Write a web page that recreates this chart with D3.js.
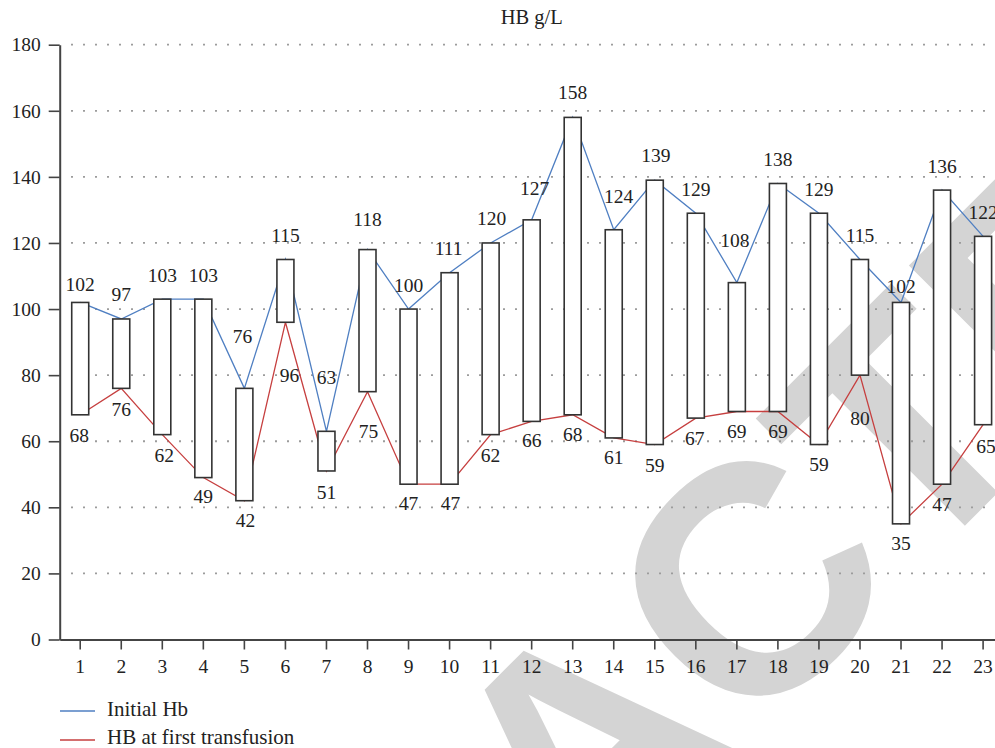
<!DOCTYPE html>
<html><head><meta charset="utf-8">
<script src="https://cdn.jsdelivr.net/npm/d3@7"></script>
<style>
html,body{margin:0;padding:0;background:#fff;overflow:hidden}
text{font-family:"Liberation Serif","Times New Roman",serif;fill:#222}
</style>
</head><body>
<svg id="c" width="995" height="748"></svg>
<script>
// ---- data ----
const categories = ["1","2","3","4","5","6","7","8","9","10","11","12","13","14","15","16","17","18","19","20","21","22","23"];
const initialHb = [102,97,103,103,76,115,63,118,100,111,120,127,158,124,139,129,108,138,129,115,102,136,122];
const transfusionHb = [68,76,62,49,42,96,51,75,47,47,62,66,68,61,59,67,69,69,59,80,35,47,65];
const yTickValues = [0,20,40,60,80,100,120,140,160,180];
const seriesNames = ["Initial Hb","HB at first transfusion"];
const chartTitle = "HB g/L";
const watermarkText = "RETRACTED";

// ---- layout nudges for the value labels (px) ----
const topLabelDy = [-17.5,-24,-23.6,-23.6,-52,-23.5,-54,-30.5,-24,-24,-24.7,-31.5,-24.7,-33,-25,-23.5,-42,-23.5,-23.5,-23.5,-15.5,-23.4,-23.4];
const topLabelDx = [0,0,0,0,-2,0,0,0,0,-1,1,3,0,5,1,0,-2,0,0,0,0,0,0];
const botLabelDy = [20.7,21,20.7,19.4,19.3,53,22,40,19.8,19.8,20.4,18.6,20.2,20,20.5,20,20.2,20.2,19.5,43,19.5,20.8,21.3];
const botLabelDx = [-1,0,2,0,1,4,0,1,0,1,0,0,0,0,0,-1,0,0,0,0,0,0,3];

const serif = "'Liberation Serif','Times New Roman',serif";
const svg = d3.select("#c");
const blue = "#4f7fc2", red = "#c63f3f";

const x = d3.scaleBand().domain(categories).range([59.7, 59.7 + 23*41.04]).padding(0);
const y = d3.scaleLinear().domain([0,180]).range([639.5, 44.7]);
const cx = c => x(c) + x.bandwidth()/2;

// ---- watermark ----
const wmG = svg.append("g");
const wm = wmG.append("text").text(watermarkText)
  .attr("x",0).attr("y",0)
  .style("font-family","'Liberation Sans',Arial,sans-serif")
  .style("font-weight","bold")
  .style("font-size","325px")
  .style("fill","#d4d4d4");
(function(){
  const fs = 325;
  const ext = wm.node().getExtentOfChar(5);
  const lx = ext.x + ext.width/2, ly = -0.358*fs;
  const a = -45*Math.PI/180;
  const rx = lx*Math.cos(a) - ly*Math.sin(a);
  const ry = lx*Math.sin(a) + ly*Math.cos(a);
  const tx = 746 - rx, ty = 580 - ry;
  wmG.attr("transform",`translate(${tx},${ty}) rotate(-45)`);
})();

// ---- title ----
svg.append("text").attr("x",531.7).attr("y",24).attr("text-anchor","middle")
  .style("font-family",serif).style("font-size","20.5px").text(chartTitle);

// ---- grid ----
svg.append("g").selectAll("line").data(yTickValues.filter(v=>v>0)).join("line")
  .attr("x1",71).attr("x2",995).attr("y1",d=>y(d)).attr("y2",d=>y(d))
  .attr("stroke","#9c9c9c").attr("stroke-width",1.8).attr("stroke-dasharray","2,10");

// ---- lines ----
const lineGen = d3.line().x((d,i)=>cx(categories[i])).y(d=>y(d));
svg.append("path").datum(initialHb).attr("d",lineGen).attr("fill","none").attr("stroke",blue).attr("stroke-width",1.3);
svg.append("path").datum(transfusionHb).attr("d",lineGen).attr("fill","none").attr("stroke",red).attr("stroke-width",1.3);

// ---- bars ----
const bw = 17;
svg.append("g").selectAll("rect").data(categories).join("rect")
  .attr("x",c=>cx(c)-bw/2).attr("width",bw)
  .attr("y",(c,i)=>y(initialHb[i]))
  .attr("height",(c,i)=>y(transfusionHb[i])-y(initialHb[i]))
  .attr("fill","#fff").attr("stroke","#333").attr("stroke-width",1.6);

// ---- value labels ----
const lblG = svg.append("g").attr("text-anchor","middle");
lblG.selectAll("text.t").data(categories).join("text").attr("class","t")
  .attr("x",(c,i)=>cx(c)+topLabelDx[i])
  .attr("y",(c,i)=>y(initialHb[i])+topLabelDy[i]+6.5)
  .style("font-family",serif).style("font-size","19.5px")
  .text((c,i)=>initialHb[i]);
lblG.selectAll("text.b").data(categories).join("text").attr("class","b")
  .attr("x",(c,i)=>cx(c)+botLabelDx[i])
  .attr("y",(c,i)=>y(transfusionHb[i])+botLabelDy[i]+6.5)
  .style("font-family",serif).style("font-size","19.5px")
  .text((c,i)=>transfusionHb[i]);

// ---- axes ----
const yAxis = svg.append("g").attr("transform","translate(59.7,0)")
  .call(d3.axisLeft(y).tickValues(yTickValues).tickSize(11).tickSizeOuter(0).tickPadding(8));
const xAxis = svg.append("g").attr("transform","translate(0,639.5)")
  .call(d3.axisBottom(x).tickSize(10).tickSizeOuter(0).tickPadding(10));
[yAxis,xAxis].forEach(g=>{
  g.attr("font-family",null);
  g.select(".domain").attr("stroke","#444").attr("stroke-width",2);
  g.selectAll(".tick line").attr("stroke","#444").attr("stroke-width",1.6);
  g.selectAll(".tick text").style("font-family",serif)
    .style("font-size","19.5px").attr("fill","#222");
});

// ---- legend ----
const leg = svg.append("g");
[blue,red].forEach((col,i)=>{
  const ly = 711 + i*29;
  leg.append("line").attr("x1",60).attr("x2",95).attr("y1",ly).attr("y2",ly).attr("stroke",col).attr("stroke-width",1.3);
  leg.append("text").attr("x",107).attr("y",i===0?716:744).style("font-family",serif).style("font-size","21px").text(seriesNames[i]);
});
</script>
</body></html>
